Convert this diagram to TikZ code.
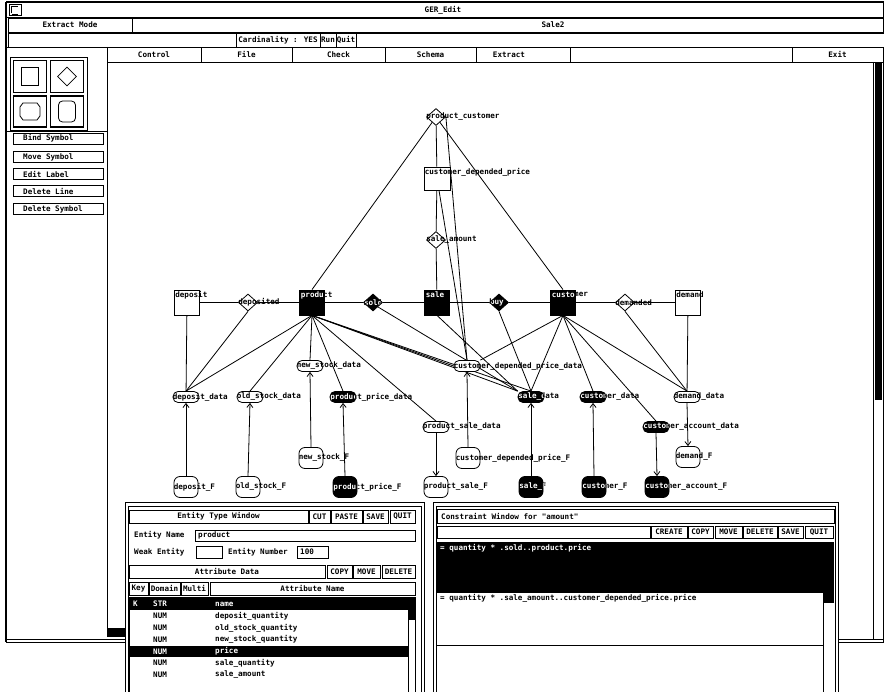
\documentclass[tikz,border=0pt]{standalone}
\usepackage{fontspec}
\newfontfamily\uif{DejaVu Sans Mono Bold}
\usetikzlibrary{shapes.geometric,arrows.meta}
\pgfdeclarelayer{bg}
\pgfdeclarelayer{edges}
\pgfdeclarelayer{lbls}
\pgfsetlayers{bg,edges,lbls,main}
\newcommand\tf{\uif\fontsize{7.6}{8}\selectfont}
\tikzset{
  lw/.style={line width=0.8pt},
  txt/.style={font=\tf, inner sep=0pt},
  wtxt/.style={txt, text=white, draw=none, fill=none, shape=rectangle, minimum width=0pt, minimum height=0pt, rounded corners=0pt},
  ent/.style={draw, lw, rectangle, minimum width=25pt, minimum height=25pt, inner sep=0pt, fill=white},
  entb/.style={ent, fill=black, path picture={\node[wtxt, anchor=north west] at ([shift={(1pt,-1.5pt)}]path picture bounding box.north west) {#1};}},
  rel/.style={draw, lw, diamond, minimum width=19pt, minimum height=17pt, inner sep=0pt, fill=white},
  relb/.style={rel, fill=black, path picture={\node[wtxt, anchor=west] at (path picture bounding box.west) {#1};}},
  dat/.style={draw, lw, rectangle, rounded corners=5pt, minimum width=26pt, minimum height=11pt, inner sep=0pt, fill=white},
  datb/.style={dat, fill=black, path picture={\node[wtxt, anchor=west] at (path picture bounding box.west) {#1};}},
  fil/.style={draw, lw, rectangle, rounded corners=6pt, minimum width=24pt, minimum height=21pt, inner sep=0pt, fill=white},
  filb/.style={fil, fill=black, path picture={\node[wtxt, anchor=west] at (path picture bounding box.west) {#1};}},
  edge/.style={lw},
  arr/.style={lw, -{Straight Barb[length=4pt,width=6pt]}},
  btn/.style={draw, lw, font=\tf, inner sep=0pt, fill=white},
}
\begin{document}
\begin{tikzpicture}[x=1pt,y=-1pt]
\useasboundingbox (0,0) rectangle (884,692);
\begin{pgfonlayer}{bg}
\fill[white] (0,0) rectangle (884,692);
\end{pgfonlayer}
% ---------- main window frame ----------
\draw[line width=1.2pt] (6,2) -- (884,2);
\draw[line width=1.2pt] (6,2) -- (6,642);
\draw[lw] (6,17) -- (884,17);
\draw[line width=1pt] (883,2) -- (883,642);
\node[draw, lw, minimum width=12pt, minimum height=11pt, inner sep=0pt] (icon) at (15,10) {};
\draw[lw] (11.5,13.5) -- (11.5,6.5) -- (18,6.5);
\draw[lw] (11.5,14) -- (18,14);
\node[txt] (title) at (443,10) {GER\_Edit};
% row 2
\node[btn, minimum width=124pt, minimum height=14pt] (bMode) at (70,25) {Extract Mode};
\node[btn, minimum width=751pt, minimum height=14pt] (bSaleBox) at (507.5,25) {};
\node[txt] (tSale) at (553,25) {Sale2};
% row 3
\node[btn, minimum width=228pt, minimum height=14pt] (r3a) at (122,40) {};
\node[btn, minimum width=84pt, minimum height=14pt] (bCard) at (278,40) {Cardinality : YES};
\node[btn, minimum width=16pt, minimum height=14pt] (bRun) at (328,40) {Run};
\node[btn, minimum width=20pt, minimum height=14pt] (bQuit) at (346,40) {Quit};
\node[btn, minimum width=528pt, minimum height=14pt] (r3b) at (620,40) {};
% row 4 menu
\node[btn, minimum width=94pt, minimum height=15pt] (mCtl) at (154,54.5) {Control};
\node[btn, minimum width=91pt, minimum height=15pt] (mFile) at (246.5,54.5) {File};
\node[btn, minimum width=93pt, minimum height=15pt] (mChk) at (338.5,54.5) {Check};
\node[btn, minimum width=91pt, minimum height=15pt] (mSch) at (430.5,54.5) {Schema};
\node[btn, minimum width=94pt, minimum height=15pt] (mExtBox) at (523,54.5) {};
\node[txt] (mExt) at (509,54.5) {Extract};
\node[btn, minimum width=222pt, minimum height=15pt] (mEmpty) at (681,54.5) {};
\node[btn, minimum width=91pt, minimum height=15pt] (mExit) at (837.5,54.5) {Exit};
% left panel
\draw[lw] (6,47) -- (107,47);
\draw[lw] (107,47) -- (107,628);
\draw[lw] (10,57) rectangle (87,130);
\node[draw, line width=1.6pt, minimum width=33pt, minimum height=32pt, inner sep=0pt] (p1) at (30,76.5) {};
\node[draw, line width=1.6pt, minimum width=33pt, minimum height=32pt, inner sep=0pt] (p2) at (67,76.5) {};
\node[draw, line width=1.6pt, minimum width=33pt, minimum height=31pt, inner sep=0pt] (p3) at (30,111.5) {};
\node[draw, line width=1.6pt, minimum width=33pt, minimum height=31pt, inner sep=0pt] (p4) at (67,111.5) {};
\node[draw, lw, minimum width=17pt, minimum height=18pt, inner sep=0pt] (s1) at (p1) {};
\node[draw, lw, diamond, minimum width=19pt, minimum height=19pt, inner sep=0pt] (s2) at (p2) {};
\draw[lw] (23,103) -- (37,103) -- (40,107) -- (40,116) -- (37,120) -- (23,120) -- (20,116) -- (20,107) -- cycle;
\node[draw, lw, rounded corners=4pt, minimum width=17pt, minimum height=21pt, inner sep=0pt] (s4) at (p4) {};
\draw[lw] (6,131) -- (107,131);
\foreach \y/\t/\n in {138.5/Bind Symbol/bBind, 157/Move Symbol/bMove, 174/Edit Label/bEdit, 191/Delete Line/bDelL, 209/Delete Symbol/bDelS} {
  \node[btn, minimum width=90pt, minimum height=11pt] (\n) at (58,\y) {};
  \node[txt, anchor=west] (\n t) at (23,\y) {\t};
}
% canvas borders
\draw[lw] (107,628) -- (125,628);
\fill (107,628) rectangle (125,637);
\draw[lw] (6,639) -- (125,639);
\draw[lw] (6,642) -- (125,642);
\draw[lw] (838,639) -- (884,639);
\draw[lw] (838,642) -- (884,642);
\draw[lw] (873,62) -- (873,640);
\fill (875,62) rectangle (882,400);

% ---------- diagram nodes ----------
\node[rel] (pc) at (436,117) {};
\node[ent, minimum width=26pt, minimum height=23pt] (cdp) at (437,178.5) {};
\node[rel] (sa) at (436,240) {};
\node[ent] (dep) at (187,302.5) {};
\node[entb=product] (prod) at (312,302.5) {};
\node[entb=sale] (sale) at (437,302.5) {};
\node[entb=customer] (cust) at (563,302.5) {};
\node[ent] (dem) at (688,302.5) {};
\node[rel] (rdep) at (248,302.5) {};
\node[relb=sold] (sold) at (373,302.5) {};
\node[relb=buy] (buy) at (499,302.5) {};
\node[rel] (rdem) at (625,302.5) {};
\node[dat] (nsd) at (310,366) {};
\node[dat] (cdpd) at (467,366) {};
\node[dat] (dd) at (186,397) {};
\node[dat] (osd) at (250,397) {};
\node[datb=product\_price\_data] (ppd) at (343,397) {};
\node[datb=sale\_data] (sd) at (531,397) {};
\node[datb=customer\_data] (cd) at (593,397) {};
\node[dat] (dmd) at (687,397) {};
\node[dat] (psd) at (436,427) {};
\node[datb=customer\_account\_data] (cad) at (656,427) {};
\node[fil] (nsF) at (311,458) {};
\node[fil] (cdpF) at (468,458) {};
\node[fil] (dmF) at (688,457) {};
\node[fil] (dF) at (186,487) {};
\node[fil] (osF) at (248,487) {};
\node[filb=product\_price\_F] (ppF) at (345,487) {};
\node[fil] (psF) at (436,487) {};
\node[filb=sale\_F] (sF) at (531,487) {};
\node[filb=customer\_F] (cF) at (594,487) {};
\node[filb=customer\_account\_F] (caF) at (657,487) {};

% labels of white nodes
\node[txt, anchor=west] (lpc) at (pc.west) {product\_customer};
\node[txt, anchor=north west] (lcdp) at ([shift={(1pt,-1.5pt)}]cdp.north west) {customer\_depended\_price};
\node[txt, anchor=west] (lsa) at (sa.west) {sale\_amount};
\node[txt, anchor=north west] (ldep) at ([shift={(1pt,-1.5pt)}]dep.north west) {deposit};
\node[txt, anchor=north west] (ldem) at ([shift={(1pt,-1.5pt)}]dem.north west) {demand};
\node[txt, anchor=west] (lrdep) at (rdep.west) {deposited};
\node[txt, anchor=west] (lrdem) at (rdem.west) {demanded};
\node[txt, anchor=west] (lnsd) at (nsd.west) {new\_stock\_data};
\node[txt, anchor=west] (lcdpd) at (cdpd.west) {customer\_depended\_price\_data};
\node[txt, anchor=west] (ldd) at (dd.west) {deposit\_data};
\node[txt, anchor=west] (losd) at (osd.west) {old\_stock\_data};
\node[txt, anchor=west] (ldmd) at (dmd.west) {demand\_data};
\node[txt, anchor=west] (lpsd) at (psd.west) {product\_sale\_data};
\node[txt, anchor=west] (lnsF) at (nsF.west) {new\_stock\_F};
\node[txt, anchor=west] (lcdpF) at (cdpF.west) {customer\_depended\_price\_F};
\node[txt, anchor=west] (ldmF) at (dmF.west) {demand\_F};
\node[txt, anchor=west] (ldF) at (dF.west) {deposit\_F};
\node[txt, anchor=west] (losF) at (osF.west) {old\_stock\_F};
\node[txt, anchor=west] (lpsF) at (psF.west) {product\_sale\_F};

% labels of black nodes (behind the nodes)
\begin{pgfonlayer}{lbls}
\node[txt, anchor=north west] (lprod) at ([shift={(1pt,-1.5pt)}]prod.north west) {product};
\node[txt, anchor=north west] (lsale) at ([shift={(1pt,-1.5pt)}]sale.north west) {sale};
\node[txt, anchor=north west] (lcust) at ([shift={(1pt,-1.5pt)}]cust.north west) {customer};
\node[txt, anchor=west] (lsold) at (sold.west) {sold};
\node[txt, anchor=west] (lbuy) at (buy.west) {buy};
\node[txt, anchor=west] (lppd) at (ppd.west) {product\_price\_data};
\node[txt, anchor=west] (lsd) at (sd.west) {sale\_data};
\node[txt, anchor=west] (lcd) at (cd.west) {customer\_data};
\node[txt, anchor=west] (lcad) at (cad.west) {customer\_account\_data};
\node[txt, anchor=west] (lppF) at (ppF.west) {product\_price\_F};
\node[txt, anchor=west] (lsF) at (sF.west) {sale\_F};
\node[txt, anchor=west] (lcF) at (cF.west) {customer\_F};
\node[txt, anchor=west] (lcaF) at (caF.west) {customer\_account\_F};
\end{pgfonlayer}

% ---------- connectors ----------
\begin{pgfonlayer}{edges}
\draw[edge] (pc) -- (prod.north);
\draw[edge] (pc) -- (cust.north);
\draw[edge] (pc) -- (cdp);
\draw[edge] (pc.east) -- (cdpd.north);
\draw[edge] ([xshift=2pt]cdp.south) -- (cdpd.north);
\draw[edge] (cdp) -- (sa);
\draw[edge] (sa) -- (sale);
\draw[edge] (dep) -- (rdep) -- (prod) -- (sold) -- (sale) -- (buy) -- (cust) -- (rdem) -- (dem);
\draw[edge] (rdep.south) -- (dd.north);
\draw[edge] (dep) -- (dd);
\draw[edge] (prod.south) -- (dd.north);
\draw[edge] (prod.south) -- (osd.north);
\draw[edge] (prod.south) -- (nsd.north);
\draw[edge] (prod.south) -- (ppd.north);
\draw[edge] (prod.south) -- (psd.north);
\draw[edge] (prod.south) -- (cdpd.west);
\draw[edge] (prod.south) -- (sd.north west);
\draw[edge] (prod.south) -- (sd.north);
\draw[edge] (sold.south east) -- (sd.north west);
\draw[edge] (sale.south) -- (sd.north west);
\draw[edge] (buy.south) -- (sd.north);
\draw[edge] (cust.south) -- (cdpd.north east);
\draw[edge] (cust.south) -- (sd.north);
\draw[edge] (cust.south) -- (cd.north);
\draw[edge] (cust.south) -- (cad.north);
\draw[edge] (cust.south) -- (dmd.north);
\draw[edge] (rdem.south) -- (dmd.north);
\draw[edge] (dem) -- (dmd);
\draw[arr] (dF.north) -- (dd.south);
\draw[arr] (osF.north) -- (osd.south);
\draw[arr] (nsF.north) -- (nsd.south);
\draw[arr] (ppF.north) -- (ppd.south);
\draw[arr] (cdpF.north) -- (cdpd.south);
\draw[arr] (sF.north) -- (sd.south);
\draw[arr] (cF.north) -- (cd.south);
\draw[arr] (psd.south) -- (psF.north);
\draw[arr] (cad.south) -- (caF.north);
\draw[arr] (dmd.south) -- (dmF.north);
\end{pgfonlayer}

% ---------- Entity Type Window ----------
\draw[line width=1pt, fill=white] (125,503) rectangle (424,700);
\draw[lw] (128,506) rectangle (421,700);
\node[btn, minimum width=179pt, minimum height=13pt] (eTitle) at (218.5,516.5) {Entity Type Window};
\node[btn, minimum width=21pt, minimum height=13pt] (eCut) at (319.5,516.5) {CUT};
\node[btn, minimum width=31pt, minimum height=13pt] (ePaste) at (346.5,516.5) {PASTE};
\node[btn, minimum width=25pt, minimum height=13pt] (eSave) at (375.5,516.5) {SAVE};
\node[btn, minimum width=25pt, minimum height=13pt] (eQuit) at (402.5,516.5) {QUIT};
\node[txt, anchor=west] (eNameL) at (134,535.5) {Entity Name};
\node[btn, minimum width=220pt, minimum height=11pt] (eNameF) at (305,535.5) {};
\node[txt, anchor=west] (eNameV) at (198,535.5) {product};
\node[txt, anchor=west] (eWeakL) at (134,552) {Weak Entity};
\node[btn, minimum width=26pt, minimum height=12pt] (eWeakF) at (209,552) {};
\node[txt, anchor=west] (eNumL) at (228,552) {Entity Number};
\node[btn, minimum width=31pt, minimum height=12pt] (eNumF) at (312.5,552) {};
\node[txt, anchor=west] (eNumV) at (300,552) {100};
\node[btn, minimum width=196pt, minimum height=13pt] (eAttr) at (227,571.5) {Attribute Data};
\node[btn, minimum width=25pt, minimum height=13pt] (eCopy) at (339.5,571.5) {COPY};
\node[btn, minimum width=27pt, minimum height=13pt] (eMove) at (366.5,571.5) {MOVE};
\node[btn, minimum width=33pt, minimum height=13pt] (eDel) at (398.5,571.5) {DELETE};
\node[btn, minimum width=19pt, minimum height=13pt] (hKey) at (138.5,588.5) {Key};
\node[btn, minimum width=31pt, minimum height=13pt] (hDom) at (164.5,588.5) {Domain};
\node[btn, minimum width=27pt, minimum height=13pt] (hMul) at (194.5,588.5) {Multi};
\node[btn, minimum width=205pt, minimum height=13pt] (hName) at (312.5,588.5) {Attribute Name};
\draw[lw] (129,597) rectangle (408,700);
\draw[lw] (408,597) rectangle (415,700);
\fill (408,597) rectangle (415,620);
\fill (129,598) rectangle (408,610);
\fill (129,646) rectangle (408,657);
\node[txt, anchor=west, text=white] (r1k) at (133,604) {K};
\node[txt, anchor=west, text=white] (r1d) at (153,604) {STR};
\node[txt, anchor=west, text=white] (r1n) at (215,604) {name};
\foreach \y/\t/\n in {616/deposit\_quantity/r2, 628/old\_stock\_quantity/r3, 639.5/new\_stock\_quantity/r4, 663/sale\_quantity/r6, 675/sale\_amount/r7} {
  \node[txt, anchor=west] (\n d) at (153,\y) {NUM};
  \node[txt, anchor=west] (\n n) at (215,\y) {\t};
}
\node[txt, anchor=west, text=white] (r5d) at (153,651.5) {NUM};
\node[txt, anchor=west, text=white] (r5n) at (215,651.5) {price};

% ---------- Constraint Window ----------
\draw[line width=1pt, fill=white] (433,503) rectangle (838,700);
\draw[lw] (436,506) rectangle (835,700);
\node[btn, minimum width=397pt, minimum height=14pt] (cTitleBox) at (635.5,516) {};
\node[txt, anchor=west] (cTitle) at (441,516) {Constraint Window for "amount"};
\node[btn, minimum width=213pt, minimum height=12pt] (cEmpty) at (543.5,532) {};
\node[btn, minimum width=36pt, minimum height=12pt] (cCreate) at (669,532) {CREATE};
\node[btn, minimum width=25pt, minimum height=12pt] (cCopy) at (700.5,532) {COPY};
\node[btn, minimum width=27pt, minimum height=12pt] (cMove) at (728.5,532) {MOVE};
\node[btn, minimum width=34pt, minimum height=12pt] (cDel) at (760,532) {DELETE};
\node[btn, minimum width=25pt, minimum height=12pt] (cSave) at (790.5,532) {SAVE};
\node[btn, minimum width=28pt, minimum height=12pt] (cQuit) at (819,532) {QUIT};
\fill (437,542) rectangle (823,593);
\draw[lw] (823,542) -- (823,700);
\fill (824,542) rectangle (834,603);
\draw[lw] (437,645) -- (823,645);
\node[txt, anchor=west, text=white] (cL1) at (440,548) {= quantity * .sold..product.price};
\node[txt, anchor=west] (cL2) at (440,598) {= quantity * .sale\_amount..customer\_depended\_price.price};
\end{tikzpicture}
\end{document}
